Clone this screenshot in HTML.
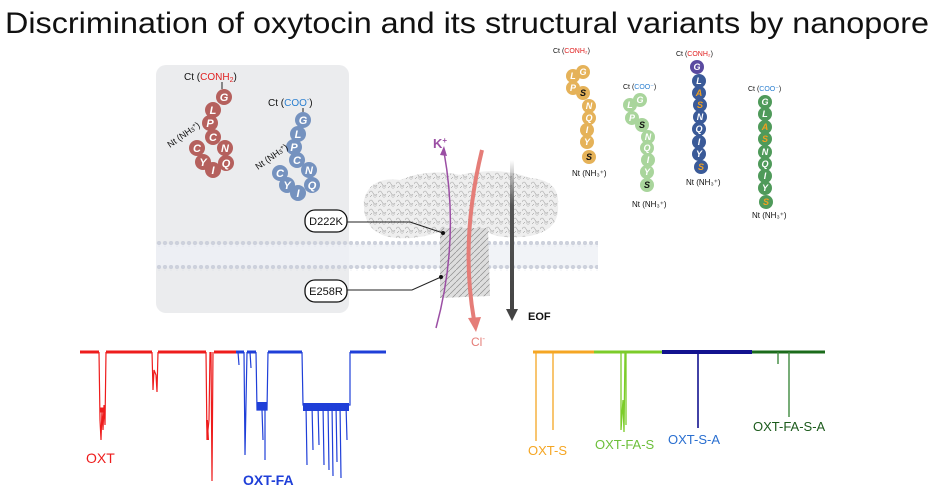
<!DOCTYPE html>
<html><head><meta charset="utf-8"><style>
html,body{margin:0;padding:0;background:#fff;}
svg{display:block;font-family:"Liberation Sans",sans-serif;}
</style></head><body>
<svg width="934" height="503" viewBox="0 0 934 503" xmlns="http://www.w3.org/2000/svg">
<defs>
<pattern id="dots" width="6" height="6" patternUnits="userSpaceOnUse"><circle cx="3" cy="3" r="2.2" fill="#cdd1dc"/></pattern>
<linearGradient id="eof" x1="0" y1="0" x2="0" y2="1"><stop offset="0" stop-color="#555" stop-opacity="0"/><stop offset="0.3" stop-color="#555"/><stop offset="1" stop-color="#444"/></linearGradient>
<pattern id="prot" width="9" height="9" patternUnits="userSpaceOnUse"><rect width="9" height="9" fill="#ececec"/><path d="M0 4 Q2 0 4 4 T8 5" stroke="#9a9a9a" fill="none" stroke-width="0.6"/><circle cx="6" cy="7" r="1.3" fill="none" stroke="#aaa" stroke-width="0.5"/><path d="M1 8 L3 6" stroke="#777" stroke-width="0.5"/></pattern>
<pattern id="stem" width="6" height="6" patternUnits="userSpaceOnUse"><rect width="6" height="6" fill="#dcdcdc"/><path d="M0 6 L6 0" stroke="#888" stroke-width="0.7"/></pattern>
</defs>
<text x="467" y="33" font-size="30" text-anchor="middle" fill="#111" textLength="924" lengthAdjust="spacingAndGlyphs">Discrimination of oxytocin and its structural variants by nanopore</text>

<rect x="156" y="65" width="193" height="248" rx="10" fill="#ebecee"/>
<rect x="156" y="244" width="442" height="24" fill="#eef0f5" opacity="0.8"/>
<rect x="156" y="241" width="442" height="6" fill="url(#dots)"/>
<rect x="156" y="265" width="442" height="6" fill="url(#dots)"/>

<path d="M364 200 Q370 176 400 180 Q430 168 460 175 Q500 166 530 178 Q560 180 558 205 Q560 230 530 236 Q500 240 487 232 L440 232 Q410 242 385 236 Q362 228 364 200Z" fill="url(#prot)" opacity="0.9"/>
<path d="M440 228 L488 228 L490 296 L440 298 Z" fill="url(#stem)" opacity="0.95"/>

<path d="M436 328 Q460 240 444 152" stroke="#9b4fa4" stroke-width="1.5" fill="none"/>
<path d="M440 155 L444 146 L447 156Z" fill="#9b4fa4"/>
<text x="433" y="148" font-size="13" font-weight="bold" fill="#9b4fa4">K<tspan font-size="8" dy="-5">+</tspan></text>
<path d="M482 150 Q460 240 474 320" stroke="#e57d78" stroke-width="4" fill="none"/>
<path d="M468 318 L476 332 L481 317Z" fill="#e57d78"/>
<text x="471" y="346" font-size="12" fill="#e57d78">Cl<tspan font-size="8" dy="-5">-</tspan></text>
<rect x="510" y="160" width="4" height="150" fill="url(#eof)"/>
<path d="M506 309 L518 309 L512 321Z" fill="#444"/>
<text x="528" y="320" font-size="11" font-weight="bold" fill="#111">EOF</text>

<rect x="305" y="210" width="42" height="22" rx="10" fill="#fff" stroke="#111" stroke-width="1.3"/>
<text x="326" y="225" font-size="11" text-anchor="middle" fill="#111">D222K</text>
<rect x="305" y="280" width="42" height="22" rx="10" fill="#fff" stroke="#111" stroke-width="1.3"/>
<text x="326" y="295" font-size="11" text-anchor="middle" fill="#111">E258R</text>
<polyline points="347,222 410,222 443,233" stroke="#222" fill="none"/><circle cx="443" cy="233" r="2" fill="#111"/>
<polyline points="347,290 412,290 441,277" stroke="#222" fill="none"/><circle cx="441" cy="277" r="2" fill="#111"/>

<g font-size="11" font-style="italic" font-weight="bold" fill="#fff" text-anchor="middle">
<g fill="#b5605d">
<circle cx="224" cy="97" r="8"/><circle cx="213" cy="110" r="8"/><circle cx="210" cy="123" r="8"/><circle cx="213" cy="137" r="8"/><circle cx="225" cy="148" r="8"/><circle cx="226" cy="163" r="8"/><circle cx="213" cy="170" r="8"/><circle cx="203" cy="162" r="8"/><circle cx="197" cy="148" r="8"/></g>
<text x="224" y="101">G</text><text x="213" y="114">L</text><text x="210" y="127">P</text><text x="213" y="141">C</text><text x="225" y="152">N</text><text x="226" y="167">Q</text><text x="213" y="174">I</text><text x="203" y="166">Y</text><text x="197" y="152">C</text>
<g fill="#7592bf">
<circle cx="303" cy="120" r="8"/><circle cx="298" cy="134" r="8"/><circle cx="294" cy="147" r="8"/><circle cx="297" cy="160" r="8"/><circle cx="309" cy="170" r="8"/><circle cx="312" cy="185" r="8"/><circle cx="298" cy="193" r="8"/><circle cx="287" cy="185" r="8"/><circle cx="280" cy="173" r="8"/></g>
<text x="303" y="124">G</text><text x="298" y="138">L</text><text x="294" y="151">P</text><text x="297" y="164">C</text><text x="309" y="174">N</text><text x="312" y="189">Q</text><text x="298" y="197">I</text><text x="287" y="189">Y</text><text x="280" y="177">C</text>
</g>
<g font-size="10" fill="#111">
<text x="184" y="80">Ct (<tspan fill="#e02020">CONH<tspan font-size="7" dy="2">2</tspan></tspan><tspan dy="-2">)</tspan></text>
<line x1="222" y1="82" x2="222" y2="89" stroke="#222"/>
<text x="268" y="106">Ct (<tspan fill="#2a7fd0">COO<tspan font-size="7" dy="-4">-</tspan></tspan><tspan dy="4">)</tspan></text>
<line x1="303" y1="108" x2="303" y2="112" stroke="#222"/>
<text x="0" y="0" font-size="9" transform="translate(170,148) rotate(-35)">Nt (NH<tspan font-size="6">3</tspan><tspan font-size="6" dy="-3">+</tspan><tspan dy="3">)</tspan></text>
<text x="0" y="0" font-size="9" transform="translate(258,170) rotate(-35)">Nt (NH<tspan font-size="6">3</tspan><tspan font-size="6" dy="-3">+</tspan><tspan dy="3">)</tspan></text>
</g>

<g font-size="9" font-style="italic" font-weight="bold" text-anchor="middle">
<g fill="#e5b259"><circle cx="583" cy="72" r="7"/><circle cx="573" cy="76" r="7"/><circle cx="573" cy="88" r="7"/><circle cx="583" cy="93" r="7"/><circle cx="589" cy="106" r="7"/><circle cx="589" cy="118" r="7"/><circle cx="587" cy="130" r="7"/><circle cx="587" cy="142" r="7"/><circle cx="589" cy="157" r="7"/></g>
<g fill="#fff"><text x="583" y="75">G</text><text x="573" y="79">L</text><text x="573" y="91">P</text><text x="589" y="109">N</text><text x="589" y="121">Q</text><text x="587" y="133">I</text><text x="587" y="145">Y</text></g>
<g fill="#111"><text x="583" y="96">S</text><text x="589" y="160">S</text></g>
<g fill="#a9d59c"><circle cx="640" cy="100" r="7"/><circle cx="630" cy="105" r="7"/><circle cx="632" cy="118" r="7"/><circle cx="642" cy="125" r="7"/><circle cx="648" cy="137" r="7"/><circle cx="647" cy="148" r="7"/><circle cx="648" cy="160" r="7"/><circle cx="647" cy="172" r="7"/><circle cx="647" cy="185" r="7"/></g>
<g fill="#fff"><text x="640" y="103">G</text><text x="630" y="108">L</text><text x="632" y="121">P</text><text x="648" y="140">N</text><text x="647" y="151">Q</text><text x="648" y="163">I</text><text x="647" y="175">Y</text></g>
<g fill="#111"><text x="642" y="128">S</text><text x="647" y="188">S</text></g>
<g fill="#3a5a98"><circle cx="697" cy="67" r="7" fill="#5a4aa0"/><circle cx="699" cy="81" r="7"/><circle cx="699" cy="93" r="7"/><circle cx="700" cy="105" r="7"/><circle cx="700" cy="117" r="7"/><circle cx="699" cy="129" r="7"/><circle cx="699" cy="142" r="7"/><circle cx="699" cy="154" r="7"/><circle cx="701" cy="167" r="7"/></g>
<g fill="#fff"><text x="697" y="70">G</text><text x="699" y="84">L</text><text x="700" y="120">N</text><text x="699" y="132">Q</text><text x="699" y="145">I</text><text x="699" y="157">Y</text></g>
<g fill="#f0a020"><text x="699" y="96">A</text><text x="700" y="108">S</text><text x="701" y="170">S</text></g>
<g fill="#4f9a5a"><circle cx="765" cy="102" r="7"/><circle cx="765" cy="114" r="7"/><circle cx="765" cy="127" r="7"/><circle cx="765" cy="139" r="7"/><circle cx="765" cy="152" r="7"/><circle cx="765" cy="164" r="7"/><circle cx="765" cy="176" r="7"/><circle cx="765" cy="188" r="7"/><circle cx="766" cy="202" r="7"/></g>
<g fill="#fff"><text x="765" y="105">G</text><text x="765" y="117">L</text><text x="765" y="155">N</text><text x="765" y="167">Q</text><text x="765" y="179">I</text><text x="765" y="191">Y</text></g>
<g fill="#f0a020"><text x="765" y="130">A</text><text x="765" y="142">S</text><text x="766" y="205">S</text></g>
</g>
<g font-size="7" fill="#111">
<text x="553" y="53">Ct (<tspan fill="#e02020">CONH₂</tspan>)</text>
<text x="623" y="89">Ct (<tspan fill="#2a7fd0">COO⁻</tspan>)</text>
<text x="676" y="56">Ct (<tspan fill="#e02020">CONH₂</tspan>)</text>
<text x="748" y="91">Ct (<tspan fill="#2a7fd0">COO⁻</tspan>)</text>
<text x="572" y="176" font-size="8">Nt (NH₃⁺)</text>
<text x="632" y="207" font-size="8">Nt (NH₃⁺)</text>
<text x="686" y="185" font-size="8">Nt (NH₃⁺)</text>
<text x="752" y="218" font-size="8">Nt (NH₃⁺)</text>
</g>

<g fill="none" stroke-width="1.2">
<g stroke="#ee1c1c">
<path d="M80 352 L99 352 M106 352 L152 352 M158 352 L206 352 M214 352 L236 352" stroke-width="3"/>
<path d="M99 352 L100 420 L101 440 L102 410 L103 430 L104 405 L105 425 L106 352"/>
<path d="M100 410 L105 410" stroke-width="5"/>
<path d="M152 352 L153 390 L154 370 L156 375 L157 392 L158 352"/>
<path d="M206 352 L207 440 L209 420 L210 352 M211 352 L212 481 L213 352"/>
<path d="M207 420 L208 440" stroke-width="2"/>
</g>
<g stroke="#1f3fd8">
<path d="M236 352 L244 352 M247 352 L256 352 M268 352 L302 352 M350 352 L386 352" stroke-width="3"/>
<path d="M244 352 L245 455 L247 352 M238 352 L239 365 M250 352 L251 368"/>
<path d="M256 352 L257 410 L267 410 L268 352 M262 410 L263 440 M265 410 L265 460"/>
<path d="M257 406 L267 406" stroke-width="8"/>
<path d="M302 352 L303 405 L350 405 L350 352"/>
<path d="M303 407 L349 407" stroke-width="8"/>
<path d="M306 405 L307 465 M312 405 L313 450 M318 405 L319 445 M323 405 L324 465 M328 405 L329 470 M332 405 L333 476 M336 405 L337 462 M340 405 L341 478 M346 405 L347 440"/>
</g>
</g>
<text x="86" y="463" font-size="14" fill="#ee1c1c">OXT</text>
<text x="243" y="485" font-size="14" font-weight="bold" fill="#1f3fd8">OXT-FA</text>

<g fill="none">
<path d="M533 352 L594 352" stroke="#f5a623" stroke-width="3"/>
<path d="M536 352 L536 441 M553 352 L553 430" stroke="#f5a623" stroke-width="1.3"/>
<path d="M594 352 L662 352" stroke="#7ccc2a" stroke-width="3"/>
<path d="M621 352 L621 430 L623 400 L624 432 L625 352 M626 352 L626 425" stroke="#7ccc2a" stroke-width="1.3"/>
<path d="M662 352 L752 352" stroke="#12128f" stroke-width="4"/>
<path d="M698 352 L698 428" stroke="#12128f" stroke-width="1.6"/>
<path d="M752 352 L825 352" stroke="#1b6b1b" stroke-width="3"/>
<path d="M778 352 L778 364 M789 352 L789 417" stroke="#3f8a3f" stroke-width="1.4"/>
</g>
<g font-size="13">
<text x="528" y="455" fill="#f5a623">OXT-S</text>
<text x="595" y="449" fill="#6cbf3a">OXT-FA-S</text>
<text x="668" y="444" fill="#2a6fd0">OXT-S-A</text>
<text x="753" y="431" fill="#1b5a1b">OXT-FA-S-A</text>
</g>
</svg>
</body></html>
